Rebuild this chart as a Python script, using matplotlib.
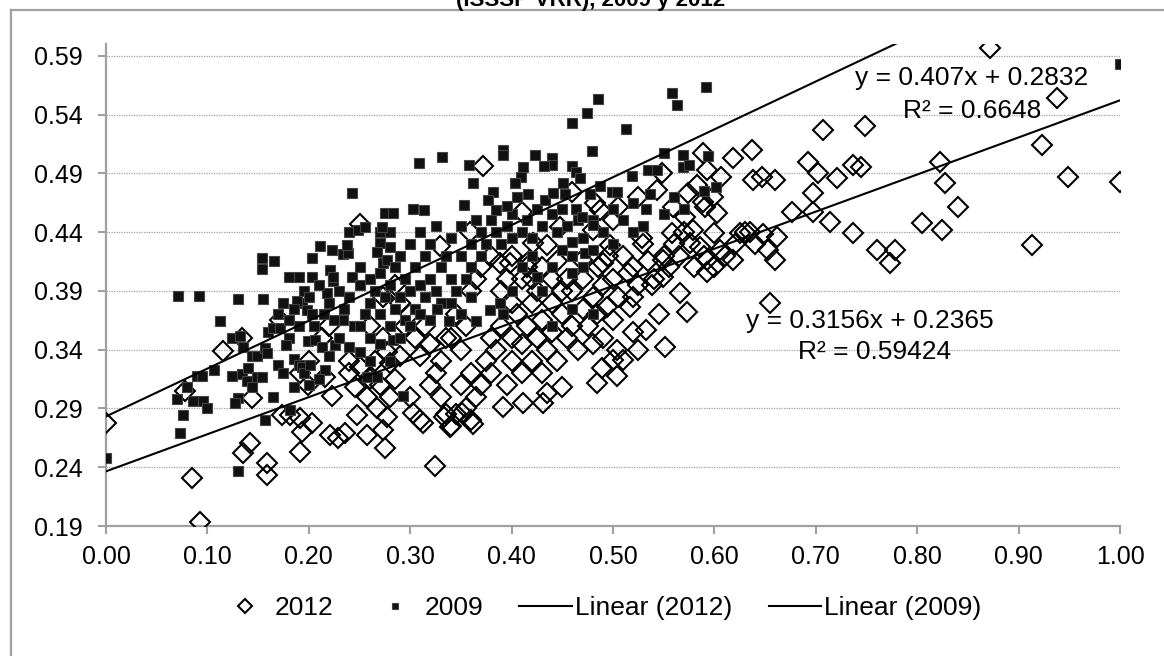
import matplotlib
matplotlib.use("Agg")
import matplotlib.pyplot as plt
from matplotlib.lines import Line2D
import numpy as np

plt.rcParams['font.family'] = ['Liberation Sans', 'DejaVu Sans']

title = "(ISSSP VRR), 2009 y 2012"

# 2012 series (diamonds)
pts_2012 = [
    (0.000,0.278),(0.078,0.305),(0.085,0.231),(0.093,0.193),(0.115,0.339),(0.134,0.350),(0.144,0.299),(0.142,0.261),
    (0.135,0.252),(0.159,0.244),(0.159,0.233),(0.172,0.365),(0.174,0.284),(0.181,0.284),(0.191,0.282),(0.193,0.270),
    (0.191,0.253),(0.203,0.278),(0.199,0.310),(0.191,0.320),(0.213,0.350),(0.216,0.317),(0.223,0.301),(0.221,0.267),
    (0.229,0.265),(0.236,0.269),(0.246,0.308),(0.248,0.284),(0.257,0.267),(0.257,0.300),(0.267,0.290),(0.273,0.272),
    (0.275,0.256),(0.277,0.283),(0.273,0.350),(0.277,0.338),(0.280,0.329),(0.273,0.385),(0.250,0.447),
    (0.200,0.330),(0.220,0.360),(0.240,0.330),(0.250,0.325),(0.260,0.315),(0.265,0.330),(0.270,0.310),(0.280,0.300),
    (0.285,0.315),(0.290,0.335),(0.295,0.360),(0.300,0.300),(0.300,0.370),(0.290,0.380),(0.285,0.395),(0.260,0.360),
    (0.240,0.320),(0.310,0.335),(0.305,0.350),(0.310,0.280),(0.320,0.310),(0.325,0.320),(0.330,0.300),(0.335,0.285),
    (0.340,0.275),(0.345,0.285),(0.350,0.310),(0.355,0.290),(0.360,0.280),(0.360,0.320),(0.365,0.300),
    (0.324,0.241),(0.303,0.286),(0.313,0.278),(0.339,0.274),(0.333,0.283),(0.351,0.286),(0.362,0.277),(0.392,0.291),
    (0.411,0.295),(0.431,0.295),(0.435,0.303),(0.450,0.308),(0.484,0.312),(0.504,0.318),(0.489,0.324),(0.500,0.331),
    (0.510,0.331),(0.525,0.340),(0.551,0.342),(0.533,0.357),(0.520,0.355),(0.504,0.340),(0.490,0.350),(0.484,0.370),
    (0.494,0.376),(0.500,0.365),(0.517,0.376),(0.520,0.385),(0.538,0.395),(0.549,0.402),(0.566,0.388),(0.573,0.372),
    (0.593,0.406),(0.655,0.380),
    (0.370,0.310),(0.375,0.330),(0.380,0.350),(0.380,0.320),(0.385,0.340),(0.390,0.360),(0.395,0.310),(0.400,0.330),
    (0.400,0.350),(0.405,0.370),(0.410,0.320),(0.410,0.345),(0.415,0.360),(0.420,0.330),(0.420,0.380),(0.425,0.350),
    (0.430,0.320),(0.430,0.365),(0.435,0.340),(0.440,0.380),(0.440,0.355),(0.445,0.330),(0.450,0.370),(0.455,0.350),
    (0.460,0.390),(0.460,0.360),(0.465,0.340),(0.470,0.375),(0.470,0.400),(0.475,0.360),(0.480,0.385),(0.480,0.345),
    (0.485,0.410),(0.490,0.395),(0.495,0.420),(0.500,0.400),(0.505,0.385),(0.510,0.420),(0.515,0.405),(0.520,0.410),
    (0.525,0.395),(0.530,0.430),(0.535,0.415),(0.540,0.400),(0.545,0.370),(0.550,0.420),(0.555,0.410),(0.560,0.430),
    (0.565,0.420),(0.570,0.440),(0.580,0.410),(0.590,0.420),(0.600,0.410),(0.610,0.420),(0.620,0.430),(0.630,0.440),
    (0.640,0.430),
    (0.360,0.390),(0.365,0.400),(0.370,0.410),(0.380,0.420),(0.390,0.390),(0.395,0.400),(0.400,0.380),(0.410,0.400),
    (0.415,0.410),(0.420,0.400),(0.425,0.390),(0.430,0.410),(0.440,0.400),(0.445,0.415),(0.450,0.390),(0.455,0.400),
    (0.400,0.420),(0.340,0.350),(0.345,0.370),(0.350,0.340),(0.355,0.360),(0.330,0.330),(0.335,0.350),(0.320,0.345),
    (0.315,0.360),
    (0.589,0.507),(0.618,0.503),(0.637,0.510),(0.593,0.493),(0.607,0.487),(0.638,0.484),(0.647,0.487),(0.660,0.484),
    (0.548,0.490),(0.583,0.480),(0.574,0.473),(0.589,0.466),(0.599,0.470),(0.543,0.476),(0.525,0.470),(0.559,0.461),
    (0.571,0.453),(0.591,0.461),(0.603,0.456),(0.677,0.457),(0.635,0.440),(0.625,0.439),(0.600,0.439),(0.579,0.442),
    (0.558,0.439),(0.529,0.435),(0.648,0.438),(0.662,0.436),(0.653,0.425),(0.660,0.416),(0.606,0.425),(0.586,0.427),
    (0.576,0.431),(0.593,0.416),(0.618,0.416),(0.549,0.416),(0.487,0.459),(0.482,0.465),(0.505,0.461),(0.500,0.450),
    (0.480,0.442),(0.497,0.429),(0.490,0.414),(0.469,0.416),(0.448,0.444),(0.435,0.429),(0.421,0.431),(0.418,0.416),
    (0.460,0.474),(0.410,0.457),(0.398,0.414),(0.372,0.496),(0.359,0.440),(0.329,0.428),(0.389,0.414),
    (0.872,0.597),(0.938,0.554),(0.707,0.527),(0.749,0.530),(0.692,0.500),(0.702,0.490),(0.721,0.486),(0.737,0.497),
    (0.745,0.495),(0.697,0.473),(0.697,0.457),(0.714,0.449),(0.737,0.439),(0.760,0.425),(0.778,0.425),(0.773,0.414),
    (0.805,0.448),(0.822,0.500),(0.827,0.482),(0.824,0.442),(0.840,0.461),(0.913,0.429),(0.923,0.514),(0.949,0.487),
    (1.000,0.483),
]

# 2009 series (squares)
pts_2009 = [
    (0.000,0.248),(1.000,0.583),
    (0.071,0.386),(0.092,0.386),(0.112,0.364),(0.130,0.383),(0.155,0.383),(0.073,0.269),(0.076,0.284),(0.070,0.298),
    (0.086,0.296),(0.096,0.296),(0.100,0.290),(0.080,0.308),(0.090,0.318),(0.095,0.318),(0.107,0.323),(0.124,0.318),
    (0.134,0.319),(0.130,0.299),(0.127,0.295),(0.130,0.237),(0.157,0.280),(0.124,0.350),(0.132,0.352),(0.135,0.342),
    (0.144,0.335),(0.149,0.335),(0.157,0.341),(0.159,0.337),(0.140,0.324),(0.139,0.313),(0.149,0.317),(0.154,0.317),
    (0.144,0.308),(0.160,0.355),(0.165,0.358),(0.172,0.358),(0.170,0.327),(0.185,0.308),(0.181,0.289),(0.180,0.350),
    (0.178,0.344),(0.185,0.332),(0.190,0.327),(0.193,0.325),(0.195,0.320),(0.201,0.327),(0.193,0.380),(0.198,0.374),
    (0.188,0.381),(0.203,0.370),(0.199,0.347),(0.206,0.348),(0.213,0.342),(0.216,0.323),(0.226,0.344),(0.234,0.365),
    (0.240,0.342),(0.250,0.338),(0.257,0.317),(0.267,0.317),(0.283,0.348),(0.218,0.388),(0.224,0.398),
    (0.154,0.418),(0.154,0.409),(0.166,0.415),(0.243,0.473),(0.203,0.418),(0.211,0.428),(0.223,0.425),(0.234,0.421),
    (0.239,0.422),(0.238,0.429),(0.240,0.440),(0.249,0.442),(0.255,0.444),(0.270,0.440),(0.280,0.440),(0.275,0.456),
    (0.283,0.456),(0.272,0.444),(0.270,0.431),(0.267,0.423),(0.280,0.427),(0.273,0.414),(0.277,0.416),(0.180,0.402),
    (0.190,0.402),(0.203,0.402),(0.221,0.408),(0.224,0.402),(0.243,0.402),(0.250,0.410),
    (0.170,0.370),(0.175,0.380),(0.180,0.365),(0.185,0.375),(0.190,0.360),(0.195,0.390),(0.200,0.385),(0.205,0.360),
    (0.210,0.395),(0.215,0.370),(0.220,0.380),(0.225,0.365),(0.230,0.390),(0.235,0.375),(0.240,0.385),(0.245,0.360),
    (0.250,0.395),(0.255,0.370),(0.260,0.380),(0.260,0.400),(0.265,0.390),(0.270,0.370),(0.270,0.405),(0.275,0.385),
    (0.280,0.360),(0.280,0.395),(0.285,0.375),(0.285,0.410),(0.290,0.385),(0.290,0.420),(0.295,0.400),(0.295,0.365),
    (0.300,0.390),(0.300,0.430),(0.305,0.375),(0.305,0.410),(0.310,0.395),(0.310,0.440),(0.315,0.385),(0.315,0.420),
    (0.320,0.400),(0.320,0.430),(0.325,0.390),(0.325,0.445),(0.330,0.410),(0.330,0.380),(0.335,0.420),(0.340,0.400),
    (0.340,0.435),(0.345,0.390),(0.350,0.420),(0.350,0.445),(0.355,0.400),(0.360,0.430),(0.360,0.410),(0.365,0.450),
    (0.370,0.420),(0.370,0.440),(0.375,0.430),(0.380,0.450),(0.385,0.440),(0.390,0.430),(0.395,0.445),(0.400,0.455),
    (0.400,0.435),(0.410,0.440),(0.415,0.450),(0.420,0.435),(0.425,0.460),(0.430,0.445),(0.440,0.455),(0.445,0.440),
    (0.450,0.460),(0.455,0.445),(0.460,0.420),(0.465,0.450),(0.470,0.435),(0.480,0.450),(0.490,0.440),(0.500,0.460),
    (0.510,0.450),(0.520,0.440),
    (0.309,0.499),(0.331,0.504),(0.358,0.497),(0.362,0.482),(0.353,0.463),(0.303,0.460),(0.314,0.459),(0.392,0.510),
    (0.392,0.506),(0.423,0.506),(0.440,0.503),(0.440,0.497),(0.432,0.496),(0.411,0.495),(0.409,0.487),(0.403,0.482),
    (0.416,0.472),(0.405,0.470),(0.382,0.474),(0.377,0.467),(0.385,0.459),(0.395,0.462),(0.433,0.467),(0.441,0.473),
    (0.453,0.472),(0.460,0.496),(0.464,0.491),(0.467,0.486),(0.451,0.482),(0.460,0.533),(0.474,0.541),(0.485,0.553),
    (0.479,0.509),(0.513,0.528),(0.558,0.558),(0.563,0.548),(0.592,0.563),(0.477,0.472),(0.487,0.479),(0.499,0.474),
    (0.504,0.474),(0.464,0.460),(0.469,0.453),(0.480,0.446),(0.460,0.432),(0.472,0.422),(0.519,0.488),(0.535,0.493),
    (0.543,0.493),(0.536,0.472),(0.533,0.460),(0.550,0.507),(0.569,0.506),(0.569,0.495),(0.575,0.497),(0.594,0.505),
    (0.602,0.478),
    (0.293,0.301),(0.326,0.375),(0.338,0.364),(0.365,0.364),(0.379,0.374),(0.389,0.380),(0.392,0.370),(0.425,0.402),
    (0.290,0.350),(0.300,0.360),(0.310,0.370),(0.320,0.365),(0.270,0.345),(0.260,0.350),(0.250,0.360),(0.230,0.350),
    (0.220,0.335),(0.210,0.315),(0.200,0.310),(0.175,0.320),(0.165,0.300),(0.260,0.330),(0.280,0.330),(0.340,0.380),
    (0.350,0.370),(0.360,0.385),(0.400,0.390),(0.410,0.410),(0.420,0.420),(0.430,0.390),(0.440,0.410),(0.450,0.425),
    (0.460,0.405),(0.470,0.410),(0.480,0.425),(0.500,0.430),(0.530,0.445),(0.550,0.455),(0.560,0.470),(0.570,0.460),
    (0.590,0.475),(0.520,0.465),(0.460,0.375),(0.480,0.370),(0.440,0.360),
]

# Trendline coefficients (from chart labels)
slope_2012, intercept_2012, r2_2012 = 0.3156, 0.2365, "0.59424"
slope_2009, intercept_2009, r2_2009 = 0.407, 0.2832, "0.6648"

x_ticks = [0.0, 0.1, 0.2, 0.3, 0.4, 0.5, 0.6, 0.7, 0.8, 0.9, 1.0]
y_ticks = [0.19, 0.24, 0.29, 0.34, 0.39, 0.44, 0.49, 0.54, 0.59]

x12 = np.array([p[0] for p in pts_2012]); y12 = np.array([p[1] for p in pts_2012])
x09 = np.array([p[0] for p in pts_2009]); y09 = np.array([p[1] for p in pts_2009])

FS = 18
FS2 = 19
W, H = 1164, 656
fig = plt.figure(figsize=(W/100, H/100), dpi=100)
ax = fig.add_axes([106/W, 1-526/H, (1120-106)/W, (526-44)/H])

ax.plot(x12, y12, linestyle='none', marker='D', markersize=10, markerfacecolor='none',
        markeredgecolor='black', markeredgewidth=1.5, label='2012', zorder=3)
ax.plot(x09, y09, linestyle='none', marker='s', markersize=6.5, markerfacecolor='#111111',
        markeredgecolor='#444444', markeredgewidth=0.8, label='2009', zorder=4)

xl = np.array([0.0, 1.0])
ax.plot(xl, slope_2012*xl + intercept_2012, color='black', lw=1.5, label='Linear (2012)', zorder=5)
ax.plot(xl, slope_2009*xl + intercept_2009, color='black', lw=1.5, label='Linear (2009)', zorder=5)

ax.set_xlim(0, 1.0)
ax.set_ylim(0.19, 0.60)
ax.set_xticks(x_ticks)
ax.set_xticklabels([f"{v:.2f}" for v in x_ticks])
ax.set_yticks(y_ticks)
ax.set_yticklabels([f"{v:.2f}" for v in y_ticks])
ax.yaxis.grid(True, linestyle=(0, (1, 1)), color='#a0a0a0', lw=0.9)
ax.set_axisbelow(True)
for s in ['top', 'right']:
    ax.spines[s].set_visible(False)
for s in ['left', 'bottom']:
    ax.spines[s].set_color('#a0a0a0')
    ax.spines[s].set_linewidth(1.6)
ax.tick_params(axis='both', direction='out', length=6, width=1.5, color='#a0a0a0', labelsize=FS)
ax.tick_params(axis='y', pad=11)
ax.tick_params(axis='x', pad=8)

ax.text(0.854, 0.571, f"y = {slope_2009}x + {intercept_2009}", ha='center', va='center', fontsize=FS2)
ax.text(0.854, 0.543, f"R² = {r2_2009}", ha='center', va='center', fontsize=FS2)
ax.text(0.753, 0.364, f"y = {slope_2012}x + {intercept_2012}", ha='center', va='center', fontsize=FS2)
ax.text(0.758, 0.338, f"R² = {r2_2012}", ha='center', va='center', fontsize=FS2)

# Chart area border (left and top)
fig.add_artist(Line2D([11/W, 11/W], [0, 1-10/H], transform=fig.transFigure, color='#a0a0a0', lw=1.6))
fig.add_artist(Line2D([11/W, 1], [1-10/H, 1-10/H], transform=fig.transFigure, color='#a0a0a0', lw=1.6))

fig.text(591/W, 1-6/H, title, ha='center', va='baseline', fontsize=16, fontweight='bold')

h, l = ax.get_legend_handles_labels()
leg = fig.legend(h, l, loc='center', bbox_to_anchor=(600/W, 1-608/H), ncol=4, frameon=False,
                 fontsize=FS2, handlelength=2.0, handletextpad=0.12, columnspacing=1.36, markerscale=0.7)

fig.savefig('out.png', dpi=100)
